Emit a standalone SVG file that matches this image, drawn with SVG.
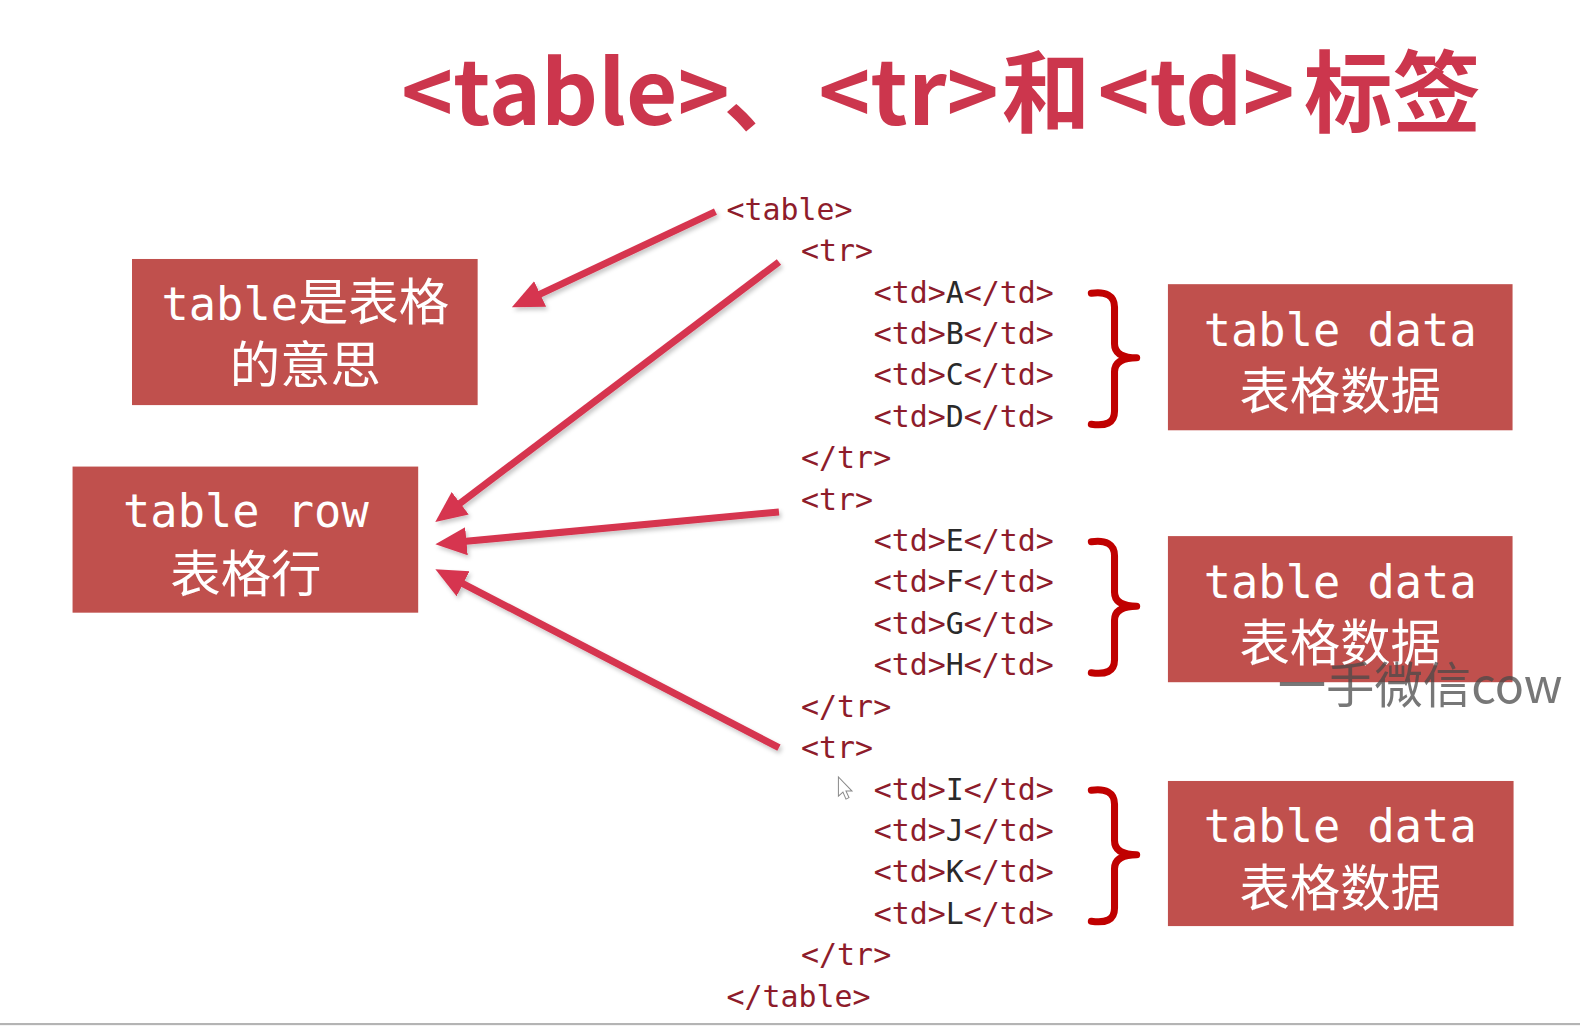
<svg xmlns="http://www.w3.org/2000/svg" width="1580" height="1026" viewBox="0 0 1580 1026">
<defs>
<style>
.title{font-family:"Noto Sans CJK SC","Noto Sans",sans-serif;font-weight:700;font-size:88px;fill:#cc364d}
.code{font-family:"DejaVu Sans Mono","Liberation Mono",monospace;font-size:29.7px;fill:#8e1c2b}
.code .v{fill:#2a2a2a}
.box rect{fill:#c0504d}
.lbl{fill:#ffffff;text-anchor:middle}
.lat{font-family:"DejaVu Sans Mono","Liberation Mono",monospace;font-size:45px}
.cjk{font-family:"Noto Sans CJK SC",sans-serif;font-size:50px}
.arrow{stroke:#d6344f;stroke-width:7;fill:none;marker-end:url(#ah);filter:url(#sh)}
.brace{stroke:#c00000;stroke-width:7;fill:none;stroke-linecap:round;stroke-linejoin:round}
.wm{font-family:"Noto Sans CJK SC","Noto Sans",sans-serif;font-size:48px;fill:#4a4a4a;fill-opacity:0.75}
</style>
<marker id="ah" markerUnits="userSpaceOnUse" markerWidth="34" markerHeight="30" refX="3" refY="14" orient="auto"><path d="M0,0 L31,14 L0,28 z" fill="#d6344f"/></marker>
<filter id="sh" filterUnits="userSpaceOnUse" x="0" y="0" width="1580" height="1026"><feDropShadow dx="2" dy="3" stdDeviation="2" flood-color="#000000" flood-opacity="0.22"/></filter>
</defs>
<rect x="0" y="0" width="1580" height="1026" fill="#ffffff"/>

<g transform="scale(1.0077)">
<g id="title">
<text class="title" y="124"><tspan x="398">&lt;table&gt;</tspan><tspan x="718">、</tspan><tspan x="812">&lt;tr&gt;</tspan><tspan x="994">和</tspan><tspan x="1089">&lt;td&gt;</tspan><tspan x="1294">标签</tspan></text>
</g>

<g id="code" class="code">
<text x="721" y="218">&lt;table&gt;</text>
<text x="795" y="259.1">&lt;tr&gt;</text>
<text x="867" y="300.2">&lt;td&gt;<tspan class="v">A</tspan>&lt;/td&gt;</text>
<text x="867" y="341.3">&lt;td&gt;<tspan class="v">B</tspan>&lt;/td&gt;</text>
<text x="867" y="382.4">&lt;td&gt;<tspan class="v">C</tspan>&lt;/td&gt;</text>
<text x="867" y="423.5">&lt;td&gt;<tspan class="v">D</tspan>&lt;/td&gt;</text>
<text x="795" y="464.6">&lt;/tr&gt;</text>
<text x="795" y="505.7">&lt;tr&gt;</text>
<text x="867" y="546.8">&lt;td&gt;<tspan class="v">E</tspan>&lt;/td&gt;</text>
<text x="867" y="587.9">&lt;td&gt;<tspan class="v">F</tspan>&lt;/td&gt;</text>
<text x="867" y="629">&lt;td&gt;<tspan class="v">G</tspan>&lt;/td&gt;</text>
<text x="867" y="670.1">&lt;td&gt;<tspan class="v">H</tspan>&lt;/td&gt;</text>
<text x="795" y="711.2">&lt;/tr&gt;</text>
<text x="795" y="752.3">&lt;tr&gt;</text>
<text x="867" y="793.4">&lt;td&gt;<tspan class="v">I</tspan>&lt;/td&gt;</text>
<text x="867" y="834.5">&lt;td&gt;<tspan class="v">J</tspan>&lt;/td&gt;</text>
<text x="867" y="875.6">&lt;td&gt;<tspan class="v">K</tspan>&lt;/td&gt;</text>
<text x="867" y="916.7">&lt;td&gt;<tspan class="v">L</tspan>&lt;/td&gt;</text>
<text x="795" y="957.8">&lt;/tr&gt;</text>
<text x="721" y="998.9">&lt;/table&gt;</text>
</g>

<g id="box-table" class="box">
<rect x="131" y="257" width="343" height="145"/>
<text class="lbl" x="303" y="318"><tspan class="lat">table</tspan><tspan class="cjk">是表格</tspan></text>
<text class="lbl cjk" x="303" y="380">的意思</text>
</g>

<g id="box-tr" class="box">
<rect x="72" y="463" width="343" height="145"/>
<text class="lbl lat" x="244" y="523">table row</text>
<text class="lbl cjk" x="244" y="587">表格行</text>
</g>

<g id="box-td1" class="box">
<rect x="1159" y="282" width="342" height="145"/>
<text class="lbl lat" x="1330" y="343">table data</text>
<text class="lbl cjk" x="1330" y="406">表格数据</text>
</g>

<g id="box-td2" class="box">
<rect x="1159" y="532" width="342" height="145"/>
<text class="lbl lat" x="1330" y="593">table data</text>
<text class="lbl cjk" x="1330" y="656">表格数据</text>
</g>

<g id="box-td3" class="box">
<rect x="1159" y="775" width="343" height="144"/>
<text class="lbl lat" x="1330" y="836">table data</text>
<text class="lbl cjk" x="1330" y="899">表格数据</text>
</g>

<g id="connectors">
<line class="arrow" x1="710" y1="210" x2="533.3" y2="293.1"/>
<line class="arrow" x1="773" y1="260" x2="454.3" y2="501.1"/>
<line class="arrow" x1="773" y1="508" x2="459.9" y2="537.4"/>
<line class="arrow" x1="773" y1="742" x2="456.9" y2="577.9"/>
<path id="brace1" class="brace" d="M1083,291 C1097,289 1106,293 1106,305 L1106,341 C1106,351 1114,355 1128,355 C1114,355 1106,359 1106,369 L1106,408 C1106,420 1097,423 1083,421"/>
<use href="#brace1" transform="translate(0,246.6)"/>
<use href="#brace1" transform="translate(0,493.2)"/>
</g>

<g id="watermark">
<text class="wm" x="1268" y="698">一手微信cow</text>
</g>

<g id="cursor">
<polygon points="832,771 832,790 836.5,786 839.5,793 842.5,791.5 839.5,785 845.5,785" fill="#ffffff" stroke="#8a8a8a" stroke-width="1"/>
</g>
</g>

<rect x="0" y="1023" width="1580" height="2" fill="#b4b4b4"/>
<rect x="0" y="1025" width="1580" height="1" fill="#f4f4f4"/>
</svg>
